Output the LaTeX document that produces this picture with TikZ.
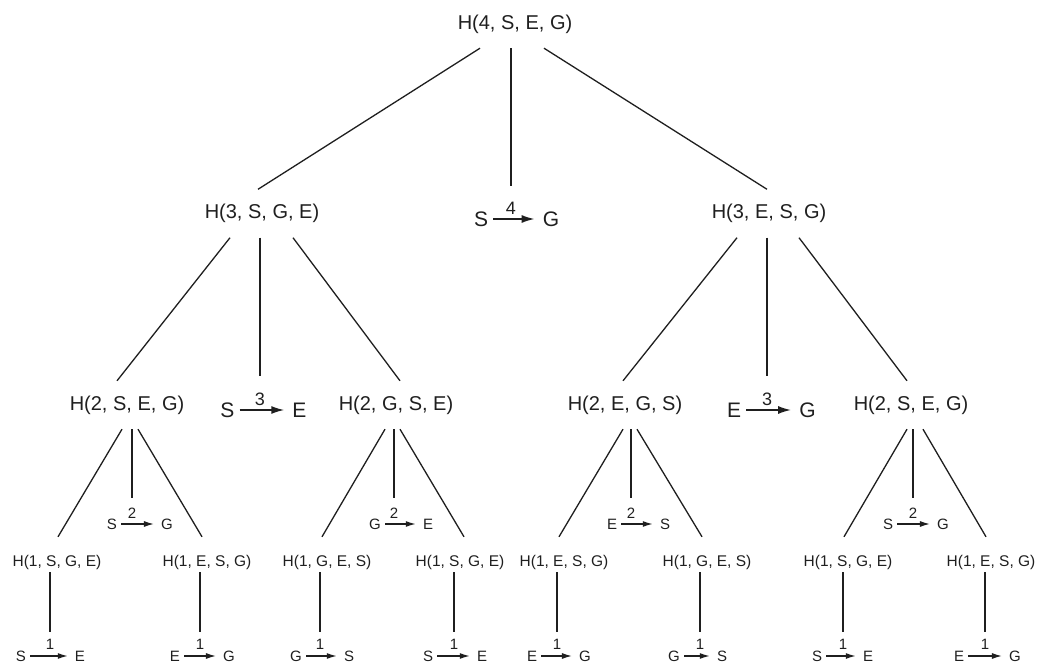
\documentclass[tikz,border=0pt]{standalone}
\usepackage{fontspec}
\setmainfont{Liberation Sans}
\usetikzlibrary{arrows.meta}
\definecolor{ink}{gray}{0.12}
\begin{document}
\begin{tikzpicture}[x=1pt,y=-1pt,color=ink,
  hbig/.style={font=\fontsize{20}{24}\selectfont, inner sep=0pt, minimum height=48pt, text height=15pt, text depth=4pt},
  hsmall/.style={font=\fontsize{15.5}{18}\selectfont, inner sep=0pt, minimum height=20pt, text height=11.5pt, text depth=3pt},
  mvbig/.style={font=\fontsize{21}{24}\selectfont, inner sep=0pt, inner xsep=5pt},
  mvsmall/.style={font=\fontsize{15}{18}\selectfont, inner sep=0pt, inner xsep=4pt},
  lblbig/.style={font=\fontsize{18}{20}\selectfont, inner sep=0pt},
  lblsmall/.style={font=\fontsize{15}{18}\selectfont, inner sep=0pt},
  tree/.style={line width=1.3pt},
  arrbig/.style={line width=1.6pt, -{Latex[length=13pt,width=8pt]}, shorten >=3pt},
  arrsmall/.style={line width=1.3pt, -{Latex[length=10pt,width=6pt]}, shorten >=3pt}]
\useasboundingbox (0,0) rectangle (1037,663);

% level 1
\node[hbig] (h4) at (515,24) {H(4, S, E, G)};
% level 2
\node[hbig] (h3a) at (262,213.5) {H(3, S, G, E)};
\node[hbig] (h3b) at (769,213.5) {H(3, E, S, G)};
\node[mvbig] (m4a) at (481,219) {S};
\node[mvbig] (m4b) at (551,219) {G};
\draw[arrbig] (m4a) -- (m4b);
\node[lblbig] (l4) at (511,208) {4};
% level 3
\node[hbig] (h2a) at (127,405) {H(2, S, E, G)};
\node[hbig] (h2b) at (396,405) {H(2, G, S, E)};
\node[hbig] (h2c) at (625,405) {H(2, E, G, S)};
\node[hbig] (h2d) at (911,405) {H(2, S, E, G)};
\node[mvbig] (m3aa) at (227.5,410) {S};
\node[mvbig] (m3ab) at (299.5,410) {E};
\draw[arrbig] (m3aa) -- (m3ab);
\node[lblbig] (l3a) at (260,399) {3};
\node[mvbig] (m3ba) at (734,410) {E};
\node[mvbig] (m3bb) at (807.5,410) {G};
\draw[arrbig] (m3ba) -- (m3bb);
\node[lblbig] (l3b) at (767,399) {3};
% level 4 moves
\node[mvsmall] (m2aa) at (112,524) {S};
\node[mvsmall] (m2ab) at (167,524) {G};
\draw[arrsmall] (m2aa) -- (m2ab);
\node[lblsmall] (l2a) at (132,513) {2};
\node[mvsmall] (m2ba) at (375,524) {G};
\node[mvsmall] (m2bb) at (428,524) {E};
\draw[arrsmall] (m2ba) -- (m2bb);
\node[lblsmall] (l2b) at (394,513) {2};
\node[mvsmall] (m2ca) at (612,524) {E};
\node[mvsmall] (m2cb) at (665,524) {S};
\draw[arrsmall] (m2ca) -- (m2cb);
\node[lblsmall] (l2c) at (631,513) {2};
\node[mvsmall] (m2da) at (888,524) {S};
\node[mvsmall] (m2db) at (943,524) {G};
\draw[arrsmall] (m2da) -- (m2db);
\node[lblsmall] (l2d) at (913,513) {2};
% level 5
\node[hsmall] (h1a) at (57,562) {H(1, S, G, E)};
\node[hsmall] (h1b) at (207,562) {H(1, E, S, G)};
\node[hsmall] (h1c) at (327,562) {H(1, G, E, S)};
\node[hsmall] (h1d) at (460,562) {H(1, S, G, E)};
\node[hsmall] (h1e) at (564,562) {H(1, E, S, G)};
\node[hsmall] (h1f) at (707,562) {H(1, G, E, S)};
\node[hsmall] (h1g) at (848,562) {H(1, S, G, E)};
\node[hsmall] (h1h) at (991,562) {H(1, E, S, G)};
% level 6 moves
\node[mvsmall] (m1aa) at (21,656) {S};
\node[mvsmall] (m1ab) at (80,656) {E};
\draw[arrsmall] (m1aa) -- (m1ab);
\node[lblsmall] (l1a) at (50,644) {1};
\node[mvsmall] (m1ba) at (175,656) {E};
\node[mvsmall] (m1bb) at (229,656) {G};
\draw[arrsmall] (m1ba) -- (m1bb);
\node[lblsmall] (l1b) at (200,644) {1};
\node[mvsmall] (m1ca) at (296,656) {G};
\node[mvsmall] (m1cb) at (349,656) {S};
\draw[arrsmall] (m1ca) -- (m1cb);
\node[lblsmall] (l1c) at (320,644) {1};
\node[mvsmall] (m1da) at (428,656) {S};
\node[mvsmall] (m1db) at (482,656) {E};
\draw[arrsmall] (m1da) -- (m1db);
\node[lblsmall] (l1d) at (454,644) {1};
\node[mvsmall] (m1ea) at (532,656) {E};
\node[mvsmall] (m1eb) at (585,656) {G};
\draw[arrsmall] (m1ea) -- (m1eb);
\node[lblsmall] (l1e) at (557,644) {1};
\node[mvsmall] (m1fa) at (674,656) {G};
\node[mvsmall] (m1fb) at (722,656) {S};
\draw[arrsmall] (m1fa) -- (m1fb);
\node[lblsmall] (l1f) at (700,644) {1};
\node[mvsmall] (m1ga) at (817,656) {S};
\node[mvsmall] (m1gb) at (868,656) {E};
\draw[arrsmall] (m1ga) -- (m1gb);
\node[lblsmall] (l1g) at (843,644) {1};
\node[mvsmall] (m1ha) at (959,656) {E};
\node[mvsmall] (m1hb) at (1015,656) {G};
\draw[arrsmall] (m1ha) -- (m1hb);
\node[lblsmall] (l1h) at (985,644) {1};

% tree lines: level 1 -> 2
\draw[tree] ([xshift=-35pt]h4.south) -- ([xshift=-4pt]h3a.north);
\draw[tree] ([xshift=29pt]h4.south) -- ([xshift=-2pt]h3b.north);
\draw[tree, shorten >=16pt] (l4 |- h4.south) -- (l4.north);
% level 2 -> 3
\draw[tree] ([xshift=-32pt]h3a.south) -- ([xshift=-10pt]h2a.north);
\draw[tree] ([xshift=31pt]h3a.south) -- ([xshift=4pt]h2b.north);
\draw[tree, shorten >=16pt] (l3a |- h3a.south) -- (l3a.north);
\draw[tree] ([xshift=-32pt]h3b.south) -- ([xshift=-2pt]h2c.north);
\draw[tree] ([xshift=30pt]h3b.south) -- ([xshift=-4pt]h2d.north);
\draw[tree, shorten >=16pt] (l3b |- h3b.south) -- (l3b.north);
% level 3 -> 4/5
\draw[tree] ([xshift=-5pt]h2a.south) -- ([shift={(1pt,15pt)}]h1a.north);
\draw[tree] ([xshift=11pt]h2a.south) -- ([shift={(-5pt,15pt)}]h1b.north);
\draw[tree, shorten >=10pt] (l2a |- h2a.south) -- (l2a.north);
\draw[tree] ([xshift=-11pt]h2b.south) -- ([shift={(-5pt,15pt)}]h1c.north);
\draw[tree] ([xshift=4pt]h2b.south) -- ([shift={(4pt,15pt)}]h1d.north);
\draw[tree, shorten >=10pt] (l2b |- h2b.south) -- (l2b.north);
\draw[tree] ([xshift=-2pt]h2c.south) -- ([shift={(-5pt,15pt)}]h1e.north);
\draw[tree] ([xshift=12pt]h2c.south) -- ([shift={(-5pt,15pt)}]h1f.north);
\draw[tree, shorten >=10pt] (l2c |- h2c.south) -- (l2c.north);
\draw[tree] ([xshift=-4pt]h2d.south) -- ([shift={(-4pt,15pt)}]h1g.north);
\draw[tree] ([xshift=12pt]h2d.south) -- ([shift={(-5pt,15pt)}]h1h.north);
\draw[tree, shorten >=10pt] (l2d |- h2d.south) -- (l2d.north);
% level 5 -> 6
\draw[tree, shorten >=7pt] (l1a |- h1a.south) -- (l1a.north);
\draw[tree, shorten >=7pt] (l1b |- h1b.south) -- (l1b.north);
\draw[tree, shorten >=7pt] (l1c |- h1c.south) -- (l1c.north);
\draw[tree, shorten >=7pt] (l1d |- h1d.south) -- (l1d.north);
\draw[tree, shorten >=7pt] (l1e |- h1e.south) -- (l1e.north);
\draw[tree, shorten >=7pt] (l1f |- h1f.south) -- (l1f.north);
\draw[tree, shorten >=7pt] (l1g |- h1g.south) -- (l1g.north);
\draw[tree, shorten >=7pt] (l1h |- h1h.south) -- (l1h.north);
\end{tikzpicture}
\end{document}
